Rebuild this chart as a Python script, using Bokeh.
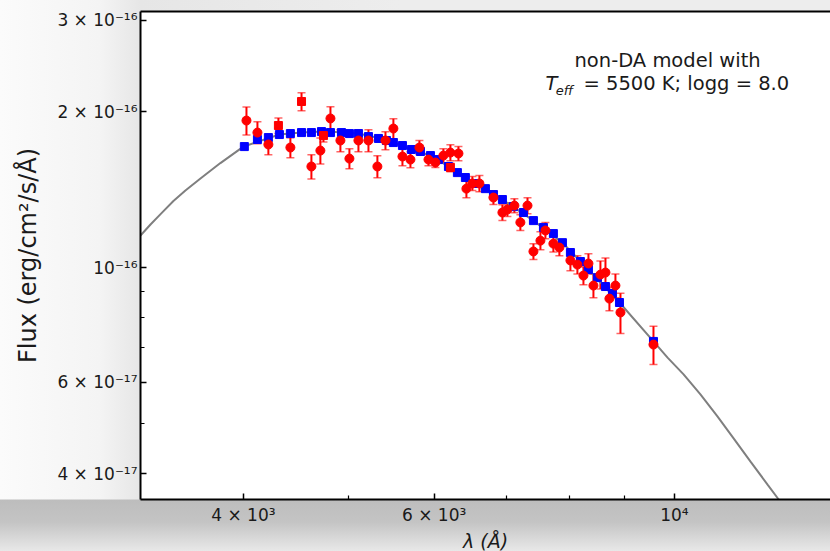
from bokeh.plotting import figure
from bokeh.models import (ColumnDataSource, Whisker, TeeHead, FixedTicker, LogAxis,
                          Range1d, Label, Title)
from bokeh.embed import file_html
from bokeh.resources import INLINE

SCALE = 1e-16  # flux values below are in units of 1e-16 erg/cm^2/s/A

# model curve (non-DA, Teff = 5500 K, logg = 8.0)
model_wl = [3214, 3283, 3354, 3447, 3536, 3651, 3809, 4000, 4318, 4526, 4722, 4927, 5108, 5330,
            5502, 5717, 5953, 6185, 6412, 6691, 6937, 7410, 7881, 8329, 8897, 9564,
            9855, 10196, 10568, 10957, 11340, 11756, 12189, 12476, 13072]
model_f = [1.153, 1.211, 1.268, 1.344, 1.408, 1.485, 1.591, 1.712, 1.806, 1.822, 1.830, 1.824, 1.814, 1.778,
           1.743, 1.690, 1.645, 1.567, 1.492, 1.420, 1.353, 1.232, 1.117, 0.991, 0.856, 0.720,
           0.670, 0.622, 0.569, 0.516, 0.468, 0.422, 0.381, 0.357, 0.311]

# synthetic model fluxes (blue squares)
blue_wl = [4008, 4121, 4218, 4318, 4420, 4526, 4622, 4722, 4813, 4927, 5011, 5108, 5218, 5330,
           5421, 5502, 5609, 5717, 5828, 5953, 6055, 6185, 6304, 6412, 6550, 6691, 6806, 6937,
           7101, 7254, 7410, 7569, 7731, 7881, 8016, 8188, 8329, 8490, 8636, 8765, 8897, 9564]
blue_f = [1.712, 1.767, 1.782, 1.806, 1.814, 1.822, 1.822, 1.830, 1.822, 1.822, 1.814, 1.814, 1.790, 1.775,
          1.759, 1.743, 1.720, 1.690, 1.675, 1.645, 1.616, 1.567, 1.525, 1.492, 1.453, 1.420, 1.383, 1.353,
          1.311, 1.277, 1.232, 1.195, 1.163, 1.117, 1.069, 1.027, 0.991, 0.956, 0.919, 0.891, 0.856, 0.720]

# observed fluxes (red circles) with errors
red_wl = [4026, 4121, 4218, 4420, 4622, 4711, 4813, 4916, 5011, 5108, 5218, 5318, 5410, 5502, 5609,
          5705, 5815, 5928, 6016, 6119, 6211, 6318, 6426, 6508, 6606, 6806, 6937, 7011, 7116, 7207,
          7317, 7410, 7521, 7601, 7731, 7830, 8016, 8136, 8241, 8329, 8418, 8544, 8636, 8709, 8821,
          8916, 9564]
red_f = [1.922, 1.822, 1.728, 1.705, 1.567, 1.682, 1.940, 1.759, 1.623, 1.759, 1.759, 1.567, 1.759, 1.855, 1.638,
         1.616, 1.705, 1.616, 1.595, 1.645, 1.667, 1.660, 1.420, 1.453, 1.453, 1.365, 1.277, 1.294, 1.317, 1.222,
         1.317, 1.074, 1.127, 1.179, 1.112, 1.093, 1.032, 1.013, 0.965, 1.018, 0.923, 0.969, 0.978, 0.871, 0.923,
         0.819, 0.710]
red_err = [0.120, 0.089, 0.077, 0.076, 0.084, 0.097, 0.104, 0.086, 0.072, 0.086, 0.086, 0.077, 0.070, 0.082, 0.066,
           0.057, 0.053, 0.043, 0.035, 0.051, 0.059, 0.052, 0.057, 0.045, 0.052, 0.042, 0.045, 0.040, 0.041, 0.043,
           0.047, 0.038, 0.045, 0.042, 0.040, 0.039, 0.046, 0.041, 0.039, 0.045, 0.049, 0.060, 0.065, 0.046, 0.049,
           0.073, 0.060]

# observed fluxes (red squares)
sq_wl = [4309, 4526, 4742, 6211]
sq_f = [1.880, 2.092, 1.798, 1.560]
sq_err = [0.065, 0.084, 0.050, 0.030]

x_ticks = [4000, 6000, 10000]
x_minor = [5000, 7000, 8000, 9000]
x_labels = ["4 × 10³", "6 × 10³", "10⁴"]
y_ticks = [4e-17, 6e-17, 1e-16, 2e-16, 3e-16]
y_minor = [5e-17, 7e-17, 8e-17, 9e-17]
y_labels = ["4 × 10⁻¹⁷", "6 × 10⁻¹⁷", "10⁻¹⁶", "2 × 10⁻¹⁶", "3 × 10⁻¹⁶"]

FONT = "DejaVu Sans"
TXT = "#1a1a1a"

p = figure(width=830, height=551, x_axis_type="log", y_axis_type="log",
           x_range=Range1d(3214, 13934), y_range=Range1d(3.566e-17, 3.121e-16),
           output_backend="svg", toolbar_location=None,
           min_border_left=140, min_border_right=0, min_border_top=11, min_border_bottom=52)
p.border_fill_alpha = 0
p.background_fill_color = "white"
p.outline_line_color = None
p.styles = {"background": "linear-gradient(to bottom, rgba(0,0,0,0) 0px, rgba(0,0,0,0) 499px, "
                          "#bdbdbd 500px, #c4c4c4 522px, #d8d8d8 538px, #e8e8e8 551px), "
                          "linear-gradient(to right, #fbfbfb 0px, #f4f4f4 100px, #e6e6e6 140px, #ededed 400px)"}
p.xgrid.visible = False
p.ygrid.visible = False

# curve
p.line(model_wl, [f * SCALE for f in model_f], line_color="#7f7f7f", line_width=2)

# blue squares
p.scatter(blue_wl, [f * SCALE for f in blue_f], marker="square", size=8,
          fill_color="#0000ff", line_color="#0000ff")

# red error bars and points
rsrc = ColumnDataSource(dict(
    x=red_wl + sq_wl,
    y=[f * SCALE for f in red_f + sq_f],
    up=[(f + e) * SCALE for f, e in zip(red_f + sq_f, red_err + sq_err)],
    lo=[(f - e) * SCALE for f, e in zip(red_f + sq_f, red_err + sq_err)],
))
wh = Whisker(base="x", upper="up", lower="lo", source=rsrc, dimension="height",
             line_color="#ff0000", line_width=2,
             upper_head=TeeHead(size=8, line_color="#ff0000", line_width=1.5, line_alpha=0.6),
             lower_head=TeeHead(size=8, line_color="#ff0000", line_width=1.5, line_alpha=0.6))
p.add_layout(wh)
p.scatter(red_wl, [f * SCALE for f in red_f], marker="circle", size=9,
          fill_color="#ff0000", line_color="#ff0000")
p.scatter(sq_wl, [f * SCALE for f in sq_f], marker="square", size=8,
          fill_color="#ff0000", line_color="#ff0000")

# axes
xa = p.xaxis[0]
ya = p.yaxis[0]
xa.ticker = FixedTicker(ticks=x_ticks, minor_ticks=x_minor)
ya.ticker = FixedTicker(ticks=y_ticks, minor_ticks=y_minor)
xa.major_label_overrides = {t: l for t, l in zip(x_ticks, x_labels)}
ya.major_label_overrides = {t: l for t, l in zip(y_ticks, y_labels)}
for ax in (xa, ya):
    ax.axis_line_width = 2
    ax.axis_line_color = "black"
    ax.major_tick_in = 6
    ax.major_tick_out = 0
    ax.minor_tick_in = 4
    ax.minor_tick_out = 0
    ax.major_tick_line_width = 1.5
    ax.minor_tick_line_width = 1.2
    ax.major_label_text_font = FONT
    ax.major_label_text_font_size = "17px"
    ax.major_label_text_color = TXT
    ax.axis_label_text_font = FONT
    ax.axis_label_text_font_style = "normal"
    ax.axis_label_text_color = TXT
xa.major_label_standoff = 5
ya.major_label_standoff = 3
ya.axis_label = "Flux (erg/cm²/s/Å)"
ya.axis_label_text_font_size = "24px"
ya.axis_label_standoff = 12

top_ax = LogAxis(ticker=FixedTicker(ticks=[]), axis_line_width=2, axis_line_color="black",
                 major_label_text_font_size="0px", major_tick_in=0, major_tick_out=0,
                 minor_tick_in=0, minor_tick_out=0)
p.add_layout(top_ax, "above")

# x-axis title as a panel below the axis
p.add_layout(Title(text="λ (Å)", align="center", offset=8, standoff=0,
                   text_font=FONT, text_font_style="italic", text_font_size="19px",
                   text_color=TXT), "below")

# annotation
p.add_layout(Label(x=9855, y=2.51e-16, text="non-DA model with", text_align="center",
                   text_baseline="middle", text_font=FONT, text_font_size="19.5px", text_color=TXT))
p.add_layout(Label(x=7602, y=2.266e-16, text="T", text_align="left", text_baseline="middle",
                   text_font=FONT, text_font_style="italic", text_font_size="19.5px", text_color=TXT))
p.add_layout(Label(x=7770, y=2.200e-16, text="eff", text_align="left", text_baseline="middle",
                   text_font=FONT, text_font_style="italic", text_font_size="13px", text_color=TXT))
p.add_layout(Label(x=8241, y=2.266e-16, text="= 5500 K; logg = 8.0", text_align="left",
                   text_baseline="middle", text_font=FONT, text_font_size="19.5px", text_color=TXT))

open("out.html", "w").write(file_html(p, INLINE))
